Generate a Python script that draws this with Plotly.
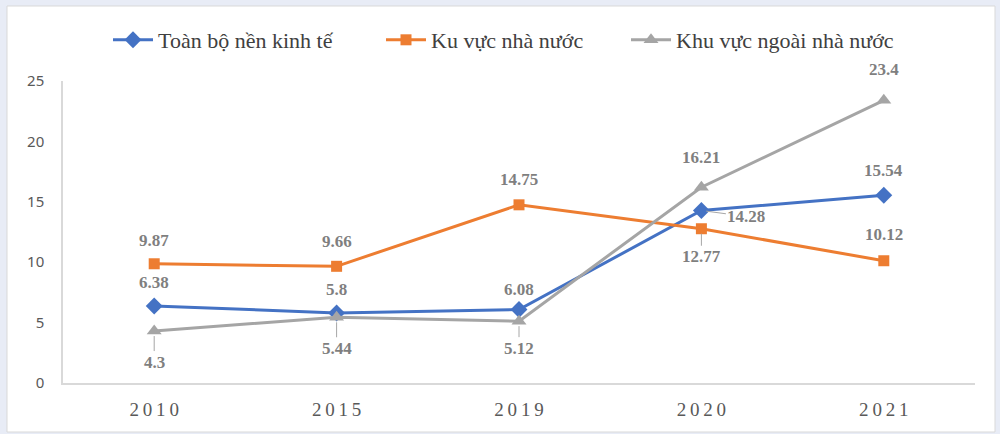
import plotly.graph_objects as go

years = ["2010", "2015", "2019", "2020", "2021"]
tick_text = ["2\u20090\u20091\u20090", "2\u20090\u20091\u20095", "2\u20090\u20091\u20099", "2\u20090\u20092\u20090", "2\u20090\u20092\u20091"]
y_ticks = [0, 5, 10, 15, 20, 25]

names = ["Toàn bộ nền kinh tế", "Ku vực nhà nước", "Khu vực ngoài nhà nước"]
toan_bo = [6.38, 5.8, 6.08, 14.28, 15.54]
nha_nuoc = [9.87, 9.66, 14.75, 12.77, 10.12]
ngoai_nha_nuoc = [4.3, 5.44, 5.12, 16.21, 23.4]

series = [toan_bo, nha_nuoc, ngoai_nha_nuoc]
colors = ["#4472C4", "#ED7D31", "#A5A5A5"]
symbols = ["diamond", "square", "triangle-up"]
msizes = [13, 11, 13]
legend_ids = ["legend", "legend2", "legend3"]
legend_left_px = [108, 381, 626]

# label offsets in pixels (dx, dy; dy positive = up), and whether a leader line is drawn
label_pos = [
    [(0, 23, False), (0, 23, False), (0, 20, False), (45, -6, True), (0, 25, False)],
    [(0, 23, False), (0, 25, False), (0, 25, False), (0, -28, True), (0, 26, False)],
    [(0, -31, True), (0, -31, True), (0, -27, True), (0, 30, False), (0, 31, False)],
]

fig = go.Figure()
for name, vals, c, s, ms, lg in zip(names, series, colors, symbols, msizes, legend_ids):
    fig.add_trace(go.Scatter(
        x=years, y=vals, name=name, mode="lines+markers",
        line=dict(color=c, width=3),
        marker=dict(symbol=s, size=ms, color=c),
        legend=lg,
    ))

label_font = dict(family="Liberation Serif, serif", size=17, color="#7F7F7F")
annotations = []
for vals, pos in zip(series, label_pos):
    for i, (yv, (dx, dy, leader)) in enumerate(zip(vals, pos)):
        txt = "<b>%g</b>" % yv
        if leader:
            annotations.append(dict(
                x=i, y=yv, xref="x", yref="y", text=txt, font=label_font,
                showarrow=True, ax=dx, ay=-dy, arrowhead=0, arrowwidth=1,
                arrowcolor="#A6A6A6", standoff=5,
            ))
        else:
            annotations.append(dict(
                x=i, y=yv, xref="x", yref="y", text=txt, font=label_font,
                showarrow=False, xshift=dx, yshift=dy,
            ))

L, R, T, B = 63, 25, 81, 51
W, H = 1000, 434
pw, ph = W - L - R, H - T - B

def px_x(x):
    return (x - L) / pw

def px_y(y):
    return (H - B - y) / ph

fig.add_shape(type="rect", xref="paper", yref="paper",
              x0=px_x(7), x1=px_x(995), y0=px_y(432), y1=px_y(6),
              fillcolor="white", line=dict(color="#D9D9D9", width=1), layer="below")

legend_style = dict(orientation="h", yanchor="middle", xanchor="left", y=px_y(40),
                    font=dict(family="Liberation Serif, serif", size=22, color="#404040"),
                    bgcolor="rgba(0,0,0,0)", itemwidth=40)
legends = {}
for lg, lx in zip(legend_ids, legend_left_px):
    legends[lg] = dict(legend_style, x=px_x(lx))

fig.update_layout(
    width=W, height=H,
    margin=dict(l=L, r=R, t=T, b=B, autoexpand=False),
    paper_bgcolor="#E8ECF6",
    plot_bgcolor="rgba(0,0,0,0)",
    showlegend=True,
    annotations=annotations,
    xaxis=dict(type="category", range=[-0.5, 4.5], tickmode="array", tickvals=years, ticktext=tick_text,
               showgrid=False, showline=True, linecolor="#D9D9D9", linewidth=1.5, ticks="",
               ticklabelstandoff=8,
               tickfont=dict(family="Liberation Serif, serif", size=19, color="#595959"), zeroline=False),
    yaxis=dict(range=[0, 25], tickvals=y_ticks, showgrid=False, showline=True, linecolor="#D9D9D9",
               linewidth=1.5, ticks="", ticklabelstandoff=14,
               tickfont=dict(family="Noto Sans", size=15, color="#595959"), zeroline=False),
    **legends,
)

fig.write_html("out.html", config={"displayModeBar": False},
               post_script="document.body.style.margin='0';")
